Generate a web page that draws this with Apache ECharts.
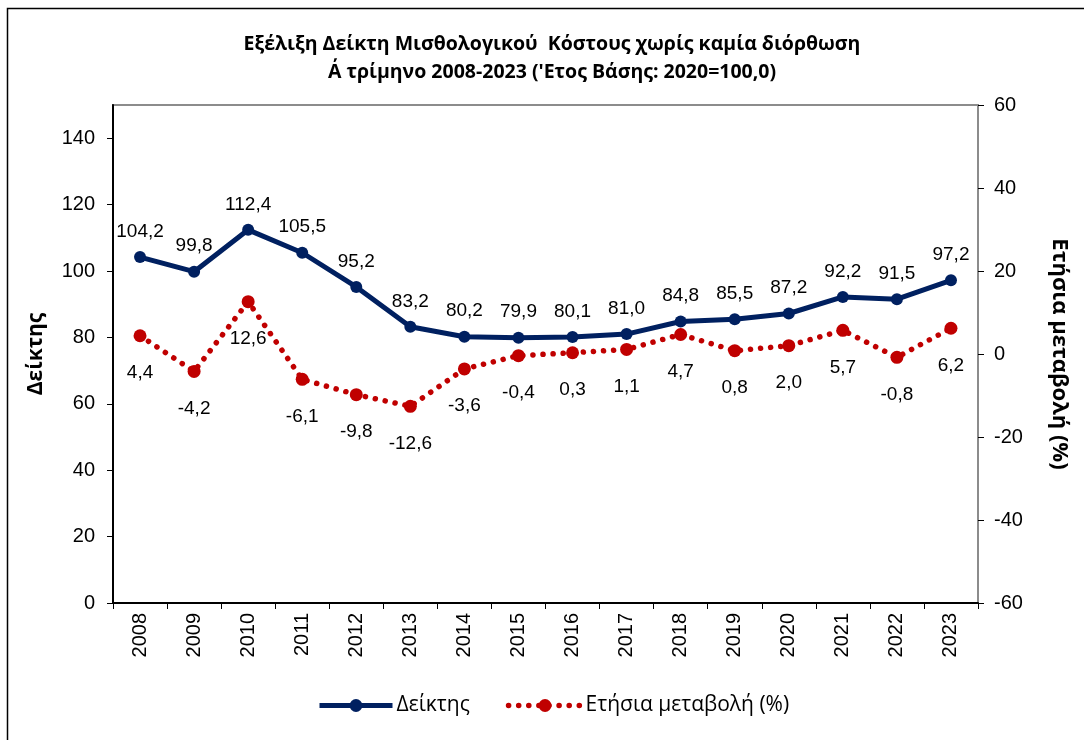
<!DOCTYPE html>
<html>
<head>
<meta charset="utf-8">
<script src="https://cdn.jsdelivr.net/npm/echarts@6/dist/echarts.min.js"></script>
<style>html,body{margin:0;padding:0;background:#fff}#c{width:1084px;height:740px}</style>
</head>
<body>
<div id="c"></div>
<script>
const years = ['2008','2009','2010','2011','2012','2013','2014','2015','2016','2017','2018','2019','2020','2021','2022','2023'];
const indexValues = [104.2, 99.8, 112.4, 105.5, 95.2, 83.2, 80.2, 79.9, 80.1, 81.0, 84.8, 85.5, 87.2, 92.2, 91.5, 97.2];
const changeValues = [4.4, -4.2, 12.6, -6.1, -9.8, -12.6, -3.6, -0.4, 0.3, 1.1, 4.7, 0.8, 2.0, 5.7, -0.8, 6.2];
const leftTicks = [0, 20, 40, 60, 80, 100, 120, 140];
const rightTicks = [-60, -40, -20, 0, 20, 40, 60];
const titleLines = ['Εξέλιξη Δείκτη Μισθολογικού  Κόστους χωρίς καμία διόρθωση', "Α΄ τρίμηνο 2008-2023 ('Ετος Βάσης: 2020=100,0)"];
const seriesNames = ['Δείκτης', 'Ετήσια μεταβολή (%)'];
const axisNames = ['Δείκτης', 'Ετήσια μεταβολή (%)'];

const fmt = v => v.toFixed(1).replace('.', ',');
const chart = echarts.init(document.getElementById('c'), null, {renderer: 'canvas'});
const axisFont = {fontFamily: 'Liberation Sans, Arial, sans-serif', fontSize: 20, color: '#000'};
const labelFont = {fontFamily: 'Liberation Sans, Arial, sans-serif', fontSize: 19, color: '#000'};
const dotted = [0.1, 10];

chart.setOption({
  animation: false,
  backgroundColor: '#fff',
  title: {
    text: titleLines.join('\n'),
    left: 547, top: 25, textAlign: 'center',
    textStyle: {fontFamily: 'Open Sans, Noto Sans, sans-serif', fontWeight: 'bold', fontSize: 19.5, lineHeight: 28, color: '#000'}
  },
  graphic: [{
    type: 'rect', shape: {x: 7.5, y: 8.5, width: 1200, height: 900},
    style: {fill: 'none', stroke: '#000', lineWidth: 1.5}, silent: true, z: -1
  }],
  legend: {
    bottom: 19, left: 312,
    itemWidth: 73, itemHeight: 16, itemGap: 36,
    textStyle: {fontFamily: 'Open Sans, Noto Sans, sans-serif', fontSize: 21, color: '#000', padding: [0, 0, 0, -1]},
    data: [
      {name: seriesNames[0], lineStyle: {width: 5}},
      {name: seriesNames[1], lineStyle: {width: 5.5, type: dotted, cap: 'round'}}
    ]
  },
  grid: {left: 113, right: 106, top: 105, bottom: 137, show: true, borderColor: '#8c8c8c', borderWidth: 2, backgroundColor: 'transparent'},
  xAxis: {
    type: 'category', data: years, boundaryGap: true,
    axisLine: {lineStyle: {color: '#000', width: 2}},
    axisTick: {show: true, length: 6, lineStyle: {color: '#000', width: 1}},
    axisLabel: Object.assign({rotate: 90, margin: 10}, axisFont)
  },
  yAxis: [{
    type: 'value', min: 0, max: 150, interval: 20, position: 'left',
    name: axisNames[0], nameLocation: 'middle', nameGap: 66, nameRotate: 90,
    nameTextStyle: {fontFamily: 'Open Sans, Noto Sans, sans-serif', fontWeight: 'bold', fontSize: 21, color: '#000'},
    axisLine: {show: true, lineStyle: {color: '#000', width: 2}},
    axisTick: {show: true, length: 6, customValues: leftTicks, lineStyle: {color: '#000', width: 1}},
    axisLabel: Object.assign({margin: 18, customValues: leftTicks}, axisFont),
    splitLine: {show: false}
  }, {
    type: 'value', min: -60, max: 60, interval: 20, position: 'right',
    name: axisNames[1], nameLocation: 'middle', nameGap: 70, nameRotate: -90,
    nameTextStyle: {fontFamily: 'Open Sans, Noto Sans, sans-serif', fontWeight: 'bold', fontSize: 22, color: '#000'},
    axisLine: {show: true, lineStyle: {color: '#8c8c8c', width: 2}},
    axisTick: {show: true, length: 6, customValues: rightTicks, lineStyle: {color: '#000', width: 1}},
    axisLabel: Object.assign({margin: 16, customValues: rightTicks}, axisFont),
    splitLine: {show: false}
  }],
  series: [{
    name: seriesNames[0], type: 'line', yAxisIndex: 0, data: indexValues,
    symbol: 'circle', symbolSize: 12,
    lineStyle: {color: '#002060', width: 5},
    itemStyle: {color: '#002060'},
    label: Object.assign({show: true, position: 'top', distance: 10, formatter: p => fmt(p.value)}, labelFont),
    z: 3
  }, {
    name: seriesNames[1], type: 'line', yAxisIndex: 1, data: changeValues,
    symbol: 'circle', symbolSize: 13,
    lineStyle: {color: '#c00000', width: 5.5, type: dotted, cap: 'round'},
    itemStyle: {color: '#c00000'},
    label: Object.assign({show: true, position: 'bottom', distance: 21, formatter: p => fmt(p.value)}, labelFont),
    z: 2
  }]
});
</script>
</body>
</html>
